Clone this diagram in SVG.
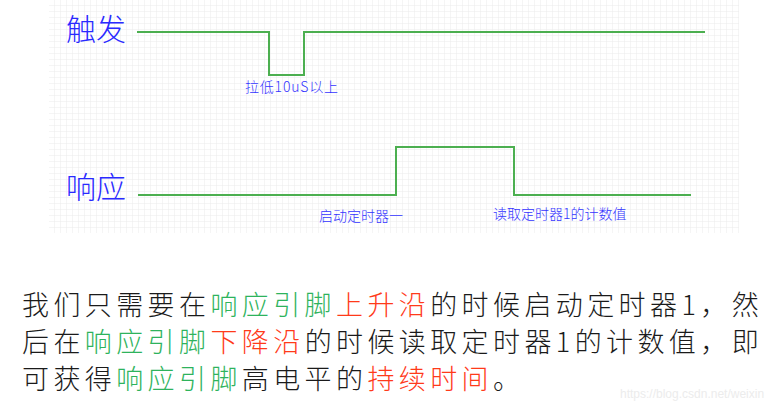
<svg xmlns="http://www.w3.org/2000/svg" width="781" height="401" viewBox="0 0 781 401">
  <defs>
    <pattern id="grid" x="49" y="0" width="6" height="6" patternUnits="userSpaceOnUse">
      <path d="M6 0V6M0 6H6" fill="none" stroke="#ebebeb" stroke-width="1"/>
    </pattern>
    <style>
      .sig { fill: none; stroke: #4caf50; stroke-width: 2; stroke-linejoin: miter; }
      .big { font-family: "Noto Sans CJK SC", "Liberation Serif", serif; font-size: 30px; fill: #2a2aff; font-weight: 300; }
      .lbl { font-family: "Noto Sans CJK SC", "Liberation Sans", sans-serif; font-size: 14px; fill: #3434ff; font-weight: 300; }
      .para { font-family: "Noto Sans CJK SC", "Liberation Sans", sans-serif; font-size: 27px; letter-spacing: 4.4px; fill: #1a1a1a; font-weight: 300; }
      .g { fill: #2eb35c; }
      .r { fill: #ff3a1a; }
    </style>
  </defs>
  <rect width="781" height="401" fill="#ffffff"/>
  <rect x="49" y="0" width="690" height="233" fill="url(#grid)"/>

  <g id="trigger">
    <text class="big" x="66" y="40">触发</text>
    <text class="lbl" x="245" y="92" font-size="12" textLength="93">拉低10uS以上</text>
  </g>
  <g id="response">
    <text class="big" x="66" y="198">响应</text>
    <text class="lbl" x="319" y="221">启动定时器一</text>
    <text class="lbl" x="493" y="219">读取定时器1的计数值</text>
  </g>

  <g id="connectors">
    <polyline class="sig" points="137,32 269,32 269,75 304,75 304,32 705,32"/>
    <polyline class="sig" points="138,195 396,195 396,147 514,147 514,195 691,195"/>
  </g>

  <g id="paragraph">
    <text class="para" x="22" y="315">我们只需要在<tspan class="g">响应引脚</tspan><tspan class="r">上升沿</tspan>的时候启动定时器1，然</text>
    <text class="para" x="22" y="352">后在<tspan class="g">响应引脚</tspan><tspan class="r">下降沿</tspan>的时候读取定时器1的计数值，即</text>
    <text class="para" x="22" y="389">可获得<tspan class="g">响应引脚</tspan>高电平的<tspan class="r">持续时间</tspan>。</text>
  </g>
  <text x="620" y="398" font-family="Liberation Sans, sans-serif" font-size="12" fill="#ececec">https://blog.csdn.net/weixin</text>
</svg>
